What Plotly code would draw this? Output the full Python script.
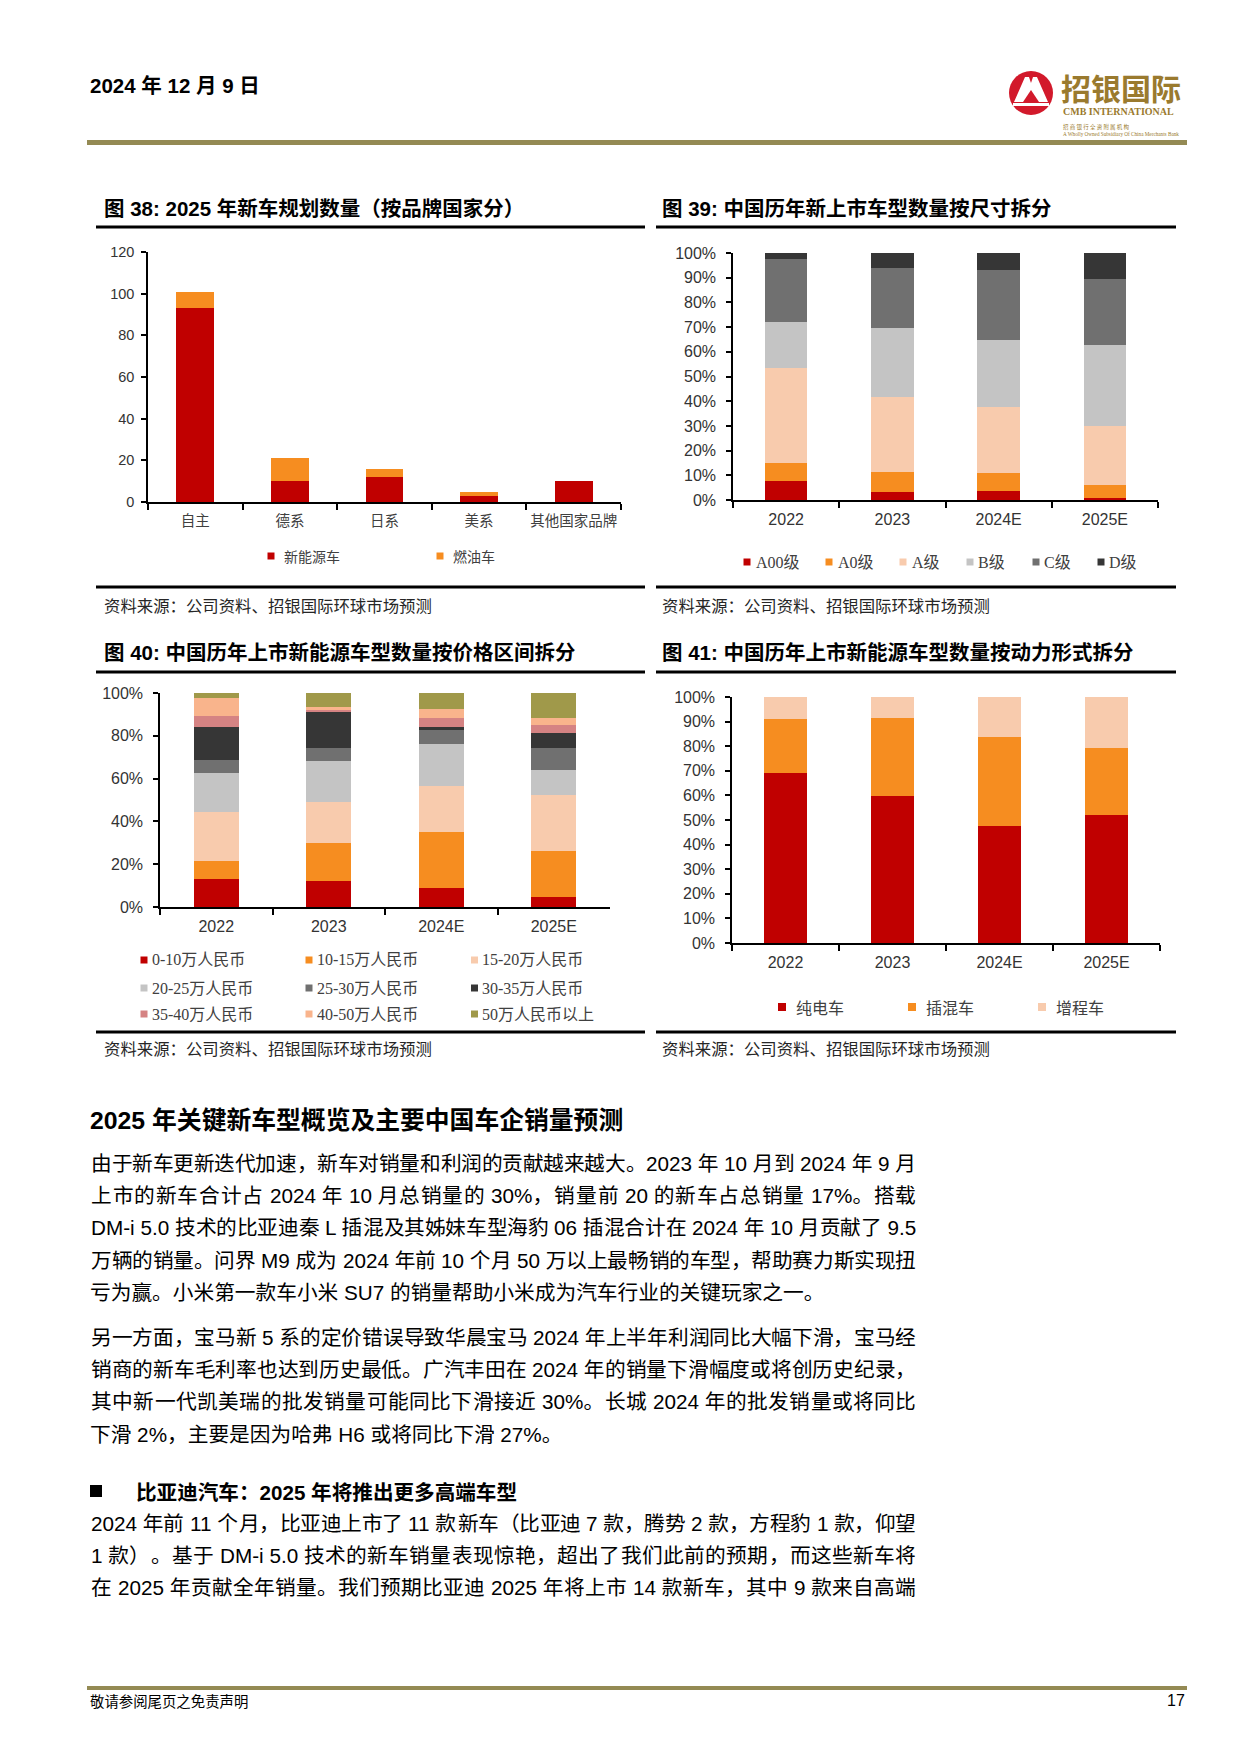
import plotly.graph_objects as go

# Page = 1240 x 1754.  The browser keeps its default 8px body margin, so the
# figure is 16px smaller than the page and sits at (8, 8): page pixels map exactly.
PAGE_W, PAGE_H = 1240, 1754
M = 8
W, H = PAGE_W - 2 * M, PAGE_H - 2 * M


def X(px):
    return (px - M) / W


def Y(py):
    return 1 - (py - M) / H


# ---------------- data ----------------
brands = ["自主", "德系", "日系", "美系", "其他国家品牌"]
nev_counts = [93, 10, 12, 3, 10]
ice_counts = [8, 11, 4, 2, 0]
brand_series = ["新能源车", "燃油车"]

years = ["2022", "2023", "2024E", "2025E"]

size_labels = ["A00级", "A0级", "A级", "B级", "C级", "D级"]
size_a00 = [7.7, 3.2, 3.6, 0.9]
size_a0 = [7.3, 8.2, 7.3, 5.2]
size_a = [38.6, 30.5, 26.8, 23.9]
size_b = [18.3, 27.6, 26.9, 32.6]
size_c = [25.8, 24.4, 28.5, 26.9]
size_d = [2.3, 6.1, 6.9, 10.5]

price_labels = ["0-10万人民币", "10-15万人民币", "15-20万人民币",
                "20-25万人民币", "25-30万人民币", "30-35万人民币",
                "35-40万人民币", "40-50万人民币", "50万人民币以上"]
price_0_10 = [13.0, 12.1, 8.9, 4.5]
price_10_15 = [8.4, 17.7, 26.3, 21.9]
price_15_20 = [22.9, 19.4, 21.2, 25.8]
price_20_25 = [18.1, 18.8, 20.0, 11.6]
price_25_30 = [6.2, 6.5, 6.2, 10.7]
price_30_35 = [15.4, 17.0, 1.4, 6.6]
price_35_40 = [5.1, 0.9, 4.2, 3.8]
price_40_50 = [8.4, 0.9, 4.2, 3.3]
price_50_up = [2.5, 6.7, 7.6, 11.8]

power_labels = ["纯电车", "插混车", "增程车"]
power_bev = [69.2, 59.9, 47.6, 52.2]
power_phev = [22.0, 31.7, 36.3, 27.2]
power_erev = [8.8, 8.4, 16.1, 20.6]

# ---------------- styles ----------------
RED = "#C00000"
ORANGE = "#F68D20"
PEACH = "#F8CBAD"
LGRAY = "#C4C4C4"
MGRAY = "#707070"
DGRAY = "#363636"
PINK = "#D58383"
SALMON = "#F9B48C"
OLIVE = "#A0994A"
GOLD = "#948A54"
LOGO_GOLD = "#9A7A2E"

SANS = "Liberation Sans, Arial, Noto Sans CJK SC, sans-serif"
SERIF = "Liberation Serif, Times New Roman, Noto Sans CJK SC, serif"
CJK = "Noto Sans CJK SC, sans-serif"
TICK = "#333333"

fig = go.Figure()


def add_stack(names, series, colors, cats, xa, ya):
    for n, v, c in zip(names, series, colors):
        fig.add_trace(go.Bar(x=cats, y=v, name=n, marker=dict(color=c, line=dict(width=0)),
                             xaxis=xa, yaxis=ya, showlegend=False))


add_stack(brand_series, [nev_counts, ice_counts], [RED, ORANGE], brands, "x", "y")
add_stack(size_labels, [size_a00, size_a0, size_a, size_b, size_c, size_d],
          [RED, ORANGE, PEACH, LGRAY, MGRAY, DGRAY], years, "x2", "y2")
price_series = [price_0_10, price_10_15, price_15_20, price_20_25, price_25_30,
                price_30_35, price_35_40, price_40_50, price_50_up]
price_colors = [RED, ORANGE, PEACH, LGRAY, MGRAY, DGRAY, PINK, SALMON, OLIVE]
add_stack(price_labels, price_series, price_colors, years, "x3", "y3")
add_stack(power_labels, [power_bev, power_phev, power_erev], [RED, ORANGE, PEACH], years, "x4", "y4")


def xaxis(x0, x1, anchor, font, standoff):
    return dict(domain=[X(x0), X(x1)], anchor=anchor, type="category",
                showline=True, linecolor="black", linewidth=1.5,
                ticks="outside", ticklen=6, tickwidth=1.5, tickcolor="black",
                tickson="boundaries", showgrid=False, zeroline=False, tickangle=0,
                tickfont=font, ticklabelstandoff=standoff, fixedrange=True, automargin=False)


def yaxis(top, bottom, anchor, rng, dtick, suffix, font, standoff):
    return dict(domain=[Y(bottom), Y(top)], anchor=anchor, range=rng, dtick=dtick, tick0=0,
                ticksuffix=suffix, showline=True, linecolor="black", linewidth=1.5,
                ticks="outside", ticklen=5, tickwidth=1.5, tickcolor="black",
                showgrid=False, zeroline=False, tickfont=font,
                ticklabelstandoff=standoff, fixedrange=True, automargin=False)


num_font16 = dict(family=SANS, size=16, color=TICK)
num_font14 = dict(family=SANS, size=14.5, color=TICK)
cat_font = dict(family=CJK, size=14.5, color="#404040")

fig.update_layout(
    width=W, height=H, autosize=False,
    margin=dict(l=0, r=0, t=0, b=0, pad=0, autoexpand=False),
    paper_bgcolor="white", plot_bgcolor="white",
    barmode="stack", bargap=0.6, showlegend=False,
    xaxis=xaxis(148, 621, "y", cat_font, 5),
    yaxis=yaxis(252, 502, "x", [0, 120], 20, "", num_font14, 4),
    xaxis2=xaxis(733, 1158, "y2", num_font16, 4),
    yaxis2=yaxis(253, 500, "x2", [0, 100], 10, "%", num_font16, 7),
    xaxis3=xaxis(160, 610, "y3", num_font16, 4),
    yaxis3=yaxis(693, 907, "x3", [0, 100], 20, "%", num_font16, 7),
    xaxis4=xaxis(732, 1160, "y4", num_font16, 4),
    yaxis4=yaxis(697, 943, "x4", [0, 100], 10, "%", num_font16, 7),
)


# ---------------- helpers ----------------
def txt(x, y, s, size, color="#000000", family=CJK, anchor="left", bold=False):
    fig.add_annotation(x=X(x), y=Y(y), xref="paper", yref="paper", text=s, showarrow=False,
                       xanchor=anchor, yanchor="middle", align="left", borderpad=0,
                       font=dict(size=size, color=color, family=family,
                                 weight="bold" if bold else "normal"))


def hline(x0, x1, y, width, color="black"):
    fig.add_shape(type="line", xref="paper", yref="paper", x0=X(x0), x1=X(x1), y0=Y(y), y1=Y(y),
                  line=dict(color=color, width=width))


def rect(x0, y0, x1, y1, color):
    fig.add_shape(type="rect", xref="paper", yref="paper", x0=X(x0), x1=X(x1), y0=Y(y1), y1=Y(y0),
                  fillcolor=color, line=dict(width=0))


def poly(points, color):
    d = "M " + " L ".join(f"{X(px):.6f},{Y(py):.6f}" for px, py in points) + " Z"
    fig.add_shape(type="path", xref="paper", yref="paper", path=d, fillcolor=color, line=dict(width=0))


def legend_item(mx, tx, y, label, color, font_family, size=14, msize=7):
    rect(mx - msize / 2, y - msize / 2, mx + msize / 2, y + msize / 2, color)
    txt(tx, y, label, size, "#404040", font_family)


# Arial / Liberation Sans advance widths (em) for the Latin characters in the body text
LATIN_EM = {" ": 0.278, ".": 0.278, "%": 0.889, "-": 0.333, "D": 0.722, "M": 0.833,
            "i": 0.222, "L": 0.556, "H": 0.722, "S": 0.667, "U": 0.722}


def char_em(ch):
    if ord(ch) >= 0x2E80:
        return 1.0
    if ch.isdigit():
        return 0.556
    return LATIN_EM.get(ch, 0.6)


def chunks_of(line):
    """Split a line into chunks that each end with one CJK character
    (Latin runs are glued to the following CJK character)."""
    chunks = []
    pending = ""
    for ch in line:
        if ord(ch) >= 0x2E80:
            lead = len(pending) - len(pending.lstrip(" "))
            body = pending.lstrip(" ")
            chunks.append([lead * char_em(" "), body + ch])
            pending = ""
        else:
            pending += ch
    if pending.strip():
        chunks[-1][1] = chunks[-1][1] + pending.rstrip(" ")
    return chunks


def justified_line(x0, x1, y, line, size, family):
    ch = chunks_of(line)
    widths = [sum(char_em(c) for c in t) for _, t in ch]
    natural = sum(l + w for (l, _), w in zip(ch, widths)) * size
    gap = (x1 - x0 - natural) / max(len(ch) - 1, 1)
    x = x0
    for (lead, t), w in zip(ch, widths):
        x += lead * size
        txt(x, y, t, size, "#000000", family)
        x += w * size + gap


# ---------------- header ----------------
txt(89, 85, "2024 年 12 月 9 日", 20.5, "#000000",
    "Liberation Sans Narrow, Liberation Sans, Noto Sans CJK SC", bold=True)
hline(87, 1187, 142.5, 5, GOLD)

cx, cy, r = 1031, 93, 22
fig.add_shape(type="circle", xref="paper", yref="paper", x0=X(cx - r), x1=X(cx + r),
              y0=Y(cy + r), y1=Y(cy - r), fillcolor="#D2192B", line=dict(width=0))
poly([(cx - 17, cy + 9), (cx - 6, cy - 16), (cx - 2, cy - 16), (cx, cy - 10),
      (cx + 2, cy - 16), (cx + 6, cy - 16), (cx + 17, cy + 9)], "white")
poly([(cx - 8, cy + 9), (cx, cy - 3), (cx + 8, cy + 9)], "#D2192B")
rect(cx - 18, cy + 10, cx + 18, cy + 13, "white")
txt(1060, 86.5, "招银国际", 30, LOGO_GOLD, CJK, bold=True)
txt(1062, 111.5, "CMB INTERNATIONAL", 10, LOGO_GOLD, SERIF, bold=True)
txt(1062, 127, "招 商 银 行 全 资 附 属 机 构", 5.5, LOGO_GOLD, CJK)
txt(1062, 134.5, "A Wholly Owned Subsidiary Of China Merchants Bank", 5.2, LOGO_GOLD, SERIF)

# ---------------- panel frames ----------------
for (x0, x1) in [(96, 645), (656, 1176)]:
    hline(x0, x1, 227, 3)
    hline(x0, x1, 587, 3)
    hline(x0, x1, 672, 3)
    hline(x0, x1, 1032, 3)

TITLE_FONT = SANS
TITLE_SIZE = 20.5
txt(103, 208, "图 38: 2025 年新车规划数量（按品牌国家分）", TITLE_SIZE, "#000000", TITLE_FONT, bold=True)
txt(661, 208, "图 39: 中国历年新上市车型数量按尺寸拆分", TITLE_SIZE, "#000000", TITLE_FONT, bold=True)
txt(103, 652, "图 40: 中国历年上市新能源车型数量按价格区间拆分", TITLE_SIZE, "#000000", TITLE_FONT, bold=True)
txt(661, 652, "图 41: 中国历年上市新能源车型数量按动力形式拆分", TITLE_SIZE, "#000000", TITLE_FONT, bold=True)

SRC = "资料来源：公司资料、招银国际环球市场预测"
for (sx, sy) in [(103, 605), (661, 605), (103, 1048), (661, 1048)]:
    txt(sx, sy, SRC, 16.4, "#262626", CJK)

# ---------------- legends ----------------
legend_item(271, 283, 556, brand_series[0], RED, CJK)
legend_item(440, 452, 556, brand_series[1], ORANGE, CJK)

size_colors = [RED, ORANGE, PEACH, LGRAY, MGRAY, DGRAY]
size_mx = [747, 829, 903, 970, 1036, 1101]
size_tx = [755, 837, 911, 977, 1043, 1108]
for lab, c, mx, tx in zip(size_labels, size_colors, size_mx, size_tx):
    legend_item(mx, tx, 562, lab, c, SERIF, size=16)

col_mx = [144, 309, 474.5]
col_tx = [151, 316, 481]
row_y = [960, 988, 1014]
for i, (lab, c) in enumerate(zip(price_labels, price_colors)):
    legend_item(col_mx[i % 3], col_tx[i % 3], row_y[i // 3], lab, c, SERIF, size=16)

power_colors = [RED, ORANGE, PEACH]
for lab, c, mx, tx in zip(power_labels, power_colors, [782, 912, 1042], [795, 925, 1055]):
    legend_item(mx, tx, 1007, lab, c, CJK, size=16, msize=8)

# ---------------- body text ----------------
BODY = "Liberation Sans, Arial, Noto Sans CJK SC, sans-serif"
txt(89, 1120, "2025 年关键新车型概览及主要中国车企销量预测", 24.8, "#000000", BODY, bold=True)

para1 = [
    "由于新车更新迭代加速，新车对销量和利润的贡献越来越大。2023 年 10 月到 2024 年 9 月",
    "上市的新车合计占 2024 年 10 月总销量的 30%，销量前 20 的新车占总销量 17%。搭载",
    "DM-i 5.0 技术的比亚迪秦 L 插混及其姊妹车型海豹 06 插混合计在 2024 年 10 月贡献了 9.5",
    "万辆的销量。问界 M9 成为 2024 年前 10 个月 50 万以上最畅销的车型，帮助赛力斯实现扭",
    "亏为赢。小米第一款车小米 SU7 的销量帮助小米成为汽车行业的关键玩家之一。",
]
para2 = [
    "另一方面，宝马新 5 系的定价错误导致华晨宝马 2024 年上半年利润同比大幅下滑，宝马经",
    "销商的新车毛利率也达到历史最低。广汽丰田在 2024 年的销量下滑幅度或将创历史纪录，",
    "其中新一代凯美瑞的批发销量可能同比下滑接近 30%。长城 2024 年的批发销量或将同比",
    "下滑 2%，主要是因为哈弗 H6 或将同比下滑 27%。",
]
para3 = [
    "2024 年前 11 个月，比亚迪上市了 11 款新车（比亚迪 7 款，腾势 2 款，方程豹 1 款，仰望",
    "1 款）。基于 DM-i 5.0 技术的新车销量表现惊艳，超出了我们此前的预期，而这些新车将",
    "在 2025 年贡献全年销量。我们预期比亚迪 2025 年将上市 14 款新车，其中 9 款来自高端",
]
BODY_SIZE = 20.7
TEXT_X0, TEXT_X1 = 90, 915
LINE_H = 32.4


def paragraph(lines, y0, last_is_ragged=True):
    for i, line in enumerate(lines):
        y = y0 + i * LINE_H
        if last_is_ragged and i == len(lines) - 1:
            txt(89, y, line, BODY_SIZE, "#000000", BODY)
        else:
            justified_line(TEXT_X0, TEXT_X1, y, line, BODY_SIZE, BODY)


paragraph(para1, 1163)
paragraph(para2, 1337)
rect(90, 1485, 102, 1497, "#000000")
txt(135, 1492, "比亚迪汽车：2025 年将推出更多高端车型", 20.6, "#000000", BODY, bold=True)
paragraph(para3, 1523, last_is_ragged=False)

# ---------------- footer ----------------
hline(87, 1187, 1688, 4, GOLD)
txt(89, 1700, "敬请参阅尾页之免责声明", 14.4, "#000000", CJK)
txt(1186, 1700, "17", 16, "#000000", "Liberation Sans Narrow, Liberation Sans", anchor="right")

fig.write_html("out.html", config={"displayModeBar": False, "responsive": False})
